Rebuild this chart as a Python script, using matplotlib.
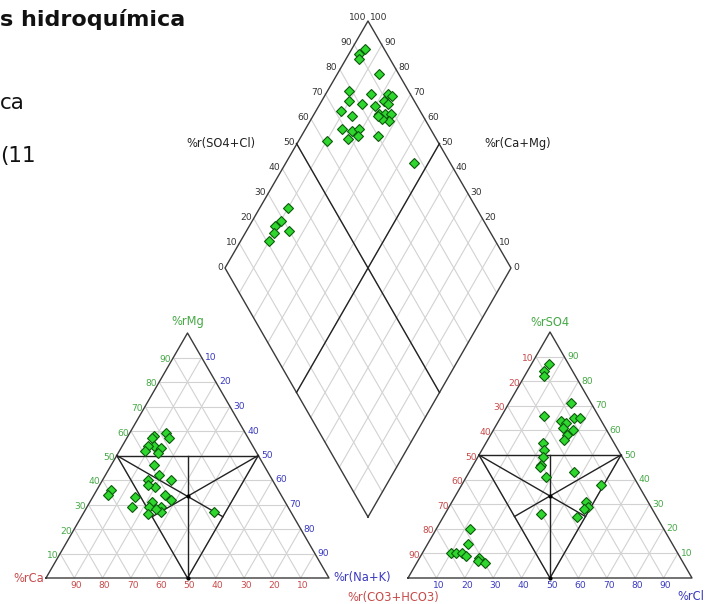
import numpy as np
import matplotlib.pyplot as plt

# Cation triangle: % Mg and % (Na+K) (Ca is the remainder)
mg_pct = [59, 57, 58, 57, 54, 53, 54, 52, 51, 46, 42, 40, 40, 37, 38,
          36, 34, 33, 29, 31, 34, 32, 29, 29, 26, 27, 28, 27]
nak_pct = [13, 15, 9, 9, 11, 14, 9, 9, 14, 15, 19, 16, 24, 20, 17,
           5, 5, 15, 16, 22, 25, 28, 22, 26, 23, 27, 25, 46]

# Anion triangle: % SO4 and % Cl (CO3+HCO3 is the remainder)
so4_pct = [87, 84, 82, 71, 66, 64, 63, 65, 65, 61, 60, 58, 56, 55, 52, 49,
           46, 45, 41, 43, 38, 31, 29, 28, 25, 26, 20, 14, 10, 10, 10, 9, 8, 7, 6]
cl_pct = [6, 6, 7, 22, 15, 22, 24, 26, 28, 24, 28, 27, 27, 20, 22, 23,
          24, 24, 28, 37, 49, 47, 49, 48, 47, 34, 12, 14, 10, 12, 14, 16, 21, 21, 24]

# Diamond: % (SO4+Cl) and % (Ca+Mg)
so4cl_pct = [93, 90, 89, 93, 79, 77, 72, 75, 81, 86, 85, 92, 93, 89, 90, 85, 87, 89,
             87, 85, 84, 69, 72, 75, 69, 73, 61, 80, 87, 34, 29, 26, 30, 24, 21]
camg_pct = [95, 96, 95, 85, 92, 90, 91, 86, 85, 84, 80, 78, 76, 78, 76, 77, 75, 73,
            72, 75, 77, 87, 83, 81, 83, 80, 90, 73, 55, 90, 90, 91, 85, 90, 90]

tick_vals = [10, 20, 30, 40, 50, 60, 70, 80, 90]
dia_ticks = [0, 10, 20, 30, 40, 50, 60, 70, 80, 90, 100]

RED = '#c84a4a'
GREEN = '#46a846'
BLUE = '#3a3ac0'
GRID = '#d2d2d2'
EDGE = '#3a3a3a'

# layout in pixel space of the 705x604 figure
CAT = (np.array([46.0, 578.0]), np.array([329.0, 578.0]), np.array([187.5, 333.0]))
ANI = (np.array([408.0, 578.0]), np.array([692.0, 578.0]), np.array([550.0, 332.0]))
DIA_B = np.array([368.0, 517.0])
DIA_L = np.array([225.0, 268.0])
DIA_R = np.array([511.0, 268.0])
DIA_T = np.array([368.0, 21.0])


def tern(tri, b, c):
    left, right, top = tri
    return left + b * (right - left) + c * (top - left)


def dia(a, b):
    return DIA_B + a * (DIA_R - DIA_B) + b * (DIA_L - DIA_B)


def seg(ax, p, q, **kw):
    ax.plot([p[0], q[0]], [p[1], q[1]], **kw)


def draw_triangle(ax, tri):
    for k in range(1, 10):
        f = k / 10
        seg(ax, tern(tri, 0, f), tern(tri, 1 - f, f), color=GRID, lw=0.8, zorder=1)
        seg(ax, tern(tri, f, 0), tern(tri, f, 1 - f), color=GRID, lw=0.8, zorder=1)
        seg(ax, tern(tri, f, 0), tern(tri, 0, f), color=GRID, lw=0.8, zorder=1)
    left, right, top = tri
    ax.plot([left[0], right[0], top[0], left[0]], [left[1], right[1], top[1], left[1]],
            color=EDGE, lw=1.0, zorder=2)
    ml = tern(tri, 0, 0.5)
    mr = tern(tri, 0.5, 0.5)
    mb = tern(tri, 0.5, 0)
    for p, q in [(ml, mr), (ml, mb), (mr, mb),
                 (mb, (ml + mr) / 2), (ml, (mr + mb) / 2), (mr, (ml + mb) / 2)]:
        seg(ax, p, q, color='#222222', lw=1.0, zorder=2)
    cen = (ml + mr + mb) / 3
    ax.plot([cen[0], mb[0]], [cen[1], mb[1]], 'o', color='black', ms=2, zorder=3)


fig = plt.figure(figsize=(7.05, 6.04), dpi=100)
ax = fig.add_axes([0, 0, 1, 1])
ax.set_xlim(0, 705)
ax.set_ylim(604, 0)
ax.axis('off')

draw_triangle(ax, CAT)
draw_triangle(ax, ANI)

# diamond
for k in range(1, 10):
    f = k / 10
    seg(ax, dia(f, 0), dia(f, 1), color=GRID, lw=0.8, zorder=1)
    seg(ax, dia(0, f), dia(1, f), color=GRID, lw=0.8, zorder=1)
pts = [DIA_B, DIA_R, DIA_T, DIA_L, DIA_B]
ax.plot([p[0] for p in pts], [p[1] for p in pts], color=EDGE, lw=1.0, zorder=2)
seg(ax, dia(0.5, 0), dia(0.5, 1), color='#222222', lw=1.0, zorder=2)
seg(ax, dia(0, 0.5), dia(1, 0.5), color='#222222', lw=1.0, zorder=2)

tfs = 6.6
for v in dia_ticks:
    p = dia(v / 100, 1)
    ax.text(p[0] - 2, p[1] - 1, str(v), fontsize=tfs, ha='right', va='center', color='#333333')
    p = dia(1, v / 100)
    ax.text(p[0] + 2, p[1] - 1, str(v), fontsize=tfs, ha='left', va='center', color='#333333')

# cation tick labels
for v in tick_vals:
    p = tern(CAT, 0, v / 100)
    ax.text(p[0] - 2, p[1] + 2, str(v), fontsize=tfs, ha='right', va='center', color=GREEN)
    p = tern(CAT, v / 100, 1 - v / 100)
    ax.text(p[0] + 3, p[1], str(v), fontsize=tfs, ha='left', va='center', color=BLUE)
    p = tern(CAT, 1 - v / 100, 0)
    ax.text(p[0] + 2, p[1] + 7, str(v), fontsize=tfs, ha='center', va='center', color=RED)

# anion tick labels
for v in tick_vals:
    p = tern(ANI, 0, 1 - v / 100)
    ax.text(p[0] - 2, p[1] + 2, str(v), fontsize=tfs, ha='right', va='center', color=RED)
    p = tern(ANI, 1 - v / 100, v / 100)
    ax.text(p[0] + 3, p[1], str(v), fontsize=tfs, ha='left', va='center', color=GREEN)
    p = tern(ANI, v / 100, 0)
    ax.text(p[0] + 2, p[1] + 7, str(v), fontsize=tfs, ha='center', va='center', color=BLUE)

lfs = 8.3
ax.text(187.5, 322, '%rMg', fontsize=lfs, ha='center', va='center', color=GREEN)
ax.text(44, 578, '%rCa', fontsize=lfs, ha='right', va='center', color=RED)
ax.text(333, 578, '%r(Na+K)', fontsize=lfs, ha='left', va='center', color=BLUE)
ax.text(550, 322, '%rSO4', fontsize=lfs, ha='center', va='center', color=GREEN)
ax.text(393, 597, '%r(CO3+HCO3)', fontsize=lfs, ha='center', va='center', color=RED)
ax.text(704, 597, '%rCl', fontsize=lfs, ha='right', va='center', color=BLUE)
ax.text(221, 143, '%r(SO4+Cl)', fontsize=lfs, ha='center', va='center', color='#222222')
ax.text(518, 143, '%r(Ca+Mg)', fontsize=lfs, ha='center', va='center', color='#222222')

# samples
mk = dict(marker='D', ls='none', ms=5.3, mfc='#2ed62e', mec='#0b5a0b', mew=0.8, zorder=5)
cat_xy = [tern(CAT, n / 100, m / 100) for m, n in zip(mg_pct, nak_pct)]
ax.plot([p[0] for p in cat_xy], [p[1] for p in cat_xy], **mk)
ani_xy = [tern(ANI, c / 100, s / 100) for s, c in zip(so4_pct, cl_pct)]
ax.plot([p[0] for p in ani_xy], [p[1] for p in ani_xy], **mk)
dia_xy = [dia(a / 100, b / 100) for a, b in zip(so4cl_pct, camg_pct)]
ax.plot([p[0] for p in dia_xy], [p[1] for p in dia_xy], **mk)

# slide text cut off at the left edge
ax.text(0, 19, 's hidroquímica', fontsize=16, fontweight='bold', ha='left', va='center', color='#111111')
ax.text(0, 103, 'ca', fontsize=15.5, ha='left', va='center', color='#111111')
ax.text(0, 156, '(11', fontsize=15.5, ha='left', va='center', color='#111111')

fig.savefig('out.png', dpi=100)
